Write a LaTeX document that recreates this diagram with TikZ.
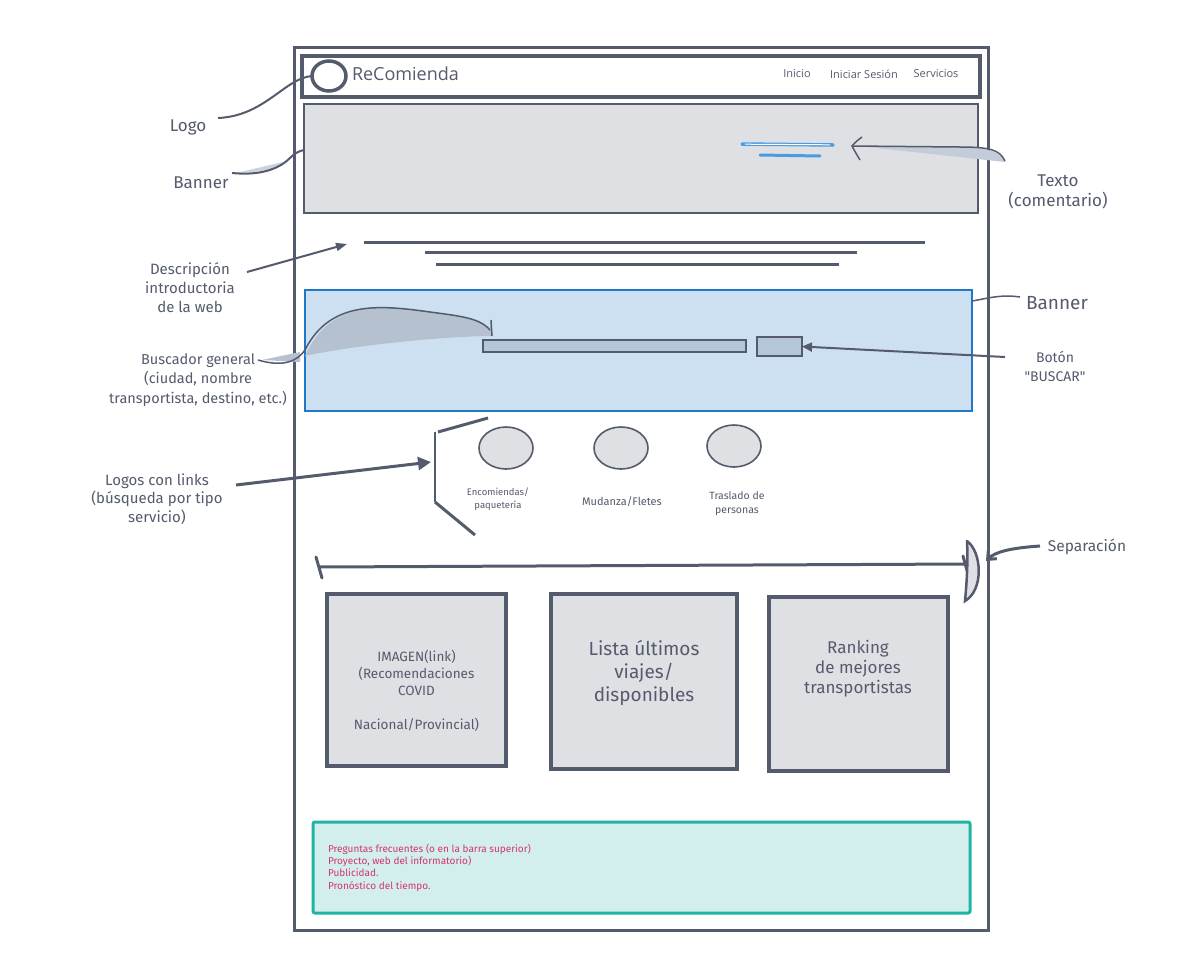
\documentclass[tikz,border=0pt]{standalone}
\usepackage{fontspec}
\setmainfont{Fira Sans}[Ligatures=TeXOff]
\newfontfamily\navfont{Open Sans}
\usetikzlibrary{shapes.geometric,arrows.meta}
\definecolor{ink}{HTML}{545B6C}
\definecolor{boxgray}{HTML}{DFE0E4}
\definecolor{bluefill}{HTML}{CCE0F1}
\definecolor{blueline}{HTML}{1E7AC8}
\definecolor{barfill}{HTML}{B4C6DA}
\definecolor{tealline}{HTML}{1FB5A2}
\definecolor{tealfill}{HTML}{D2EFEE}
\definecolor{pinktext}{HTML}{D6336C}
\definecolor{textblue}{HTML}{4A9BE0}
\definecolor{shade}{HTML}{A9B6C7}
\begin{document}
\begin{tikzpicture}[x=1pt,y=-1pt,
  every node/.style={inner sep=0pt,outer sep=0pt},
  frame/.style={draw=ink,line width=3pt},
  graybox/.style={draw=ink,fill=boxgray,line width=3.5pt},
  lbl/.style={text=ink,align=center},
  ann/.style={draw=ink,line width=2pt},
  txtline/.style={draw=ink,line width=3pt},
  circ/.style={ellipse,draw=ink,fill=boxgray,line width=1.6pt,minimum width=54pt,minimum height=42pt}
]
\useasboundingbox[fill=white] (0,0) rectangle (1184,978);

% page and header
\node[frame,minimum width=694pt,minimum height=883pt] (page) at (641,488.5) {};
\node[draw=ink,line width=3.5pt,fill=white,minimum width=678pt,minimum height=41pt] (header) at (641,76.5) {};
\node[ellipse,draw=ink,line width=3.5pt,minimum width=34pt,minimum height=30pt] (logo) at (329,76) {};
\node[anchor=west,text=ink,font=\navfont\fontsize{18}{20}\selectfont] (brand) at (352,74) {ReComienda};
\node[text=ink,font=\navfont\fontsize{11}{13}\selectfont] (inicio) at (797,74) {Inicio};
\node[text=ink,font=\navfont\fontsize{11}{13}\selectfont] (sesion) at (864,74) {Iniciar Sesión};
\node[text=ink,font=\navfont\fontsize{11}{13}\selectfont] (serv) at (936,74) {Servicios};

% top banner
\node[draw=ink,line width=1.3pt,fill=boxgray,minimum width=674pt,minimum height=109pt] (banner1) at (641,158.5) {};
\coordinate (bt1a) at (742,144); \coordinate (bt1b) at (833,145);
\coordinate (bt2a) at (760,155); \coordinate (bt2b) at (820,156);
\draw[textblue,line width=3.5pt,line cap=round] (bt1a) -- (bt1b);
\draw[white,line width=1pt] (745,144.2) -- (830,144.8);
\draw[textblue,line width=3pt,line cap=round] (bt2a) -- (bt2b);

% description lines
\coordinate (d1a) at (364,242); \coordinate (d1b) at (925,242);
\coordinate (d2a) at (425,252); \coordinate (d2b) at (857,252);
\coordinate (d3a) at (436,264); \coordinate (d3b) at (839,264);
\draw[txtline] (d1a) -- (d1b);
\draw[txtline] (d2a) -- (d2b);
\draw[txtline] (d3a) -- (d3b);

% blue banner with search
\node[draw=blueline,line width=1.2pt,fill=bluefill,minimum width=667pt,minimum height=121pt] (banner2) at (638.5,350.5) {};
\node[draw=ink,line width=1.4pt,fill=barfill,minimum width=263pt,minimum height=12pt] (search) at (614.5,346) {};
\node[draw=ink,line width=1.4pt,fill=barfill,minimum width=45pt,minimum height=19pt] (button) at (779.5,346.5) {};

% service logos
\node[circ] (c1) at (506,448) {};
\node[circ] (c2) at (621,448) {};
\node[circ] (c3) at (734,446) {};
\node[lbl,font=\fontsize{9.5}{13}\selectfont] (c1t) at (498,499.5) {Encomiendas/\\paquetería};
\node[lbl,font=\fontsize{11}{13}\selectfont] (c2t) at (622,502) {Mudanza/Fletes};
\node[lbl,font=\fontsize{10.5}{14}\selectfont] (c3t) at (737,504) {Traslado de\\personas};
\coordinate (br1) at (488,418); \coordinate (br2) at (438,432);
\coordinate (br3) at (435,432); \coordinate (br4) at (435,502);
\coordinate (br5) at (475,535);
\draw[ann,line width=3pt] (br1) -- (br2);
\draw[ann] (br3) -- (br4);
\draw[ann,line width=3pt] (br4) -- (br5);

% separator
\coordinate (sepa) at (318,567); \coordinate (sepb) at (967,564);
\draw[txtline] (sepa) -- (sepb);
\draw[txtline,line cap=round] (316,557) -- (322,578);
\draw[txtline,line cap=round] (963,556) -- (968,574);
\draw[ink,line width=2.5pt,fill=boxgray,line cap=round] (967,541) .. controls (982,552) and (984,590) .. (965,601)
   .. controls (967,580) and (968,560) .. (967,541);

% content boxes
\node[graybox,minimum width=179pt,minimum height=172pt] (box1) at (416.5,680) {};
\node[graybox,minimum width=186pt,minimum height=175pt] (box2) at (644,681.5) {};
\node[graybox,minimum width=179pt,minimum height=174pt] (box3) at (858.5,684) {};
\node[lbl,font=\fontsize{13.5}{17}\selectfont] (box1t) at (box1.center) [yshift=-11pt] {IMAGEN(link)\\(Recomendaciones\\COVID\\[17pt]Nacional/Provincial)};
\node[lbl,font=\fontsize{19}{23}\selectfont] (box2t) at (644,673) {Lista últimos\\viajes/\\disponibles};
\node[lbl,font=\fontsize{17}{20}\selectfont] (box3t) at (858,669) {Ranking\\de mejores\\transportistas};

% footer
\node[draw=tealline,line width=3pt,fill=tealfill,rounded corners=2pt,minimum width=657pt,minimum height=91pt] (footer) at (641.5,867.5) {};
\node[anchor=north west,align=left,text=pinktext,font=\fontsize{10}{12.2}\selectfont] (foottext) at (328,844) {Preguntas frecuentes (o en la barra superior)\\Proyecto, web del informatorio)\\Publicidad.\\Pronóstico del tiempo.};

% ---- annotations ----
\node[lbl,font=\fontsize{17}{20}\selectfont] (Llogo) at (188,127) {Logo};
\draw[ann] (218,118) .. controls (265,116) and (285,78) .. (logo.west);

\node[lbl,font=\fontsize{17}{20}\selectfont] (Lbanner) at (201,183) {Banner};
\fill[shade!60] (236,173) -- (283,162) .. controls (278,168) and (265,172) .. (236,173);
\draw[ann] (232,173) .. controls (262,176) and (280,168) .. (290,158) .. controls (295,153) and (299,151) .. (banner1.west |- 0,150);

\node[lbl,font=\fontsize{17}{20}\selectfont] (Ltexto) at (1058,192) {Texto\\(comentario)};
\coordinate (txtarrow) at (852,146);
\fill[shade!70] (858,146) -- (1005,162) .. controls (1000,152) and (990,148) .. (960,147) -- cycle;
\draw[ann,line width=1.5pt] (1005,161) .. controls (1000,150) and (990,147) .. (960,147) -- (txtarrow);
\draw[ann,line width=1.5pt] (862,137) .. controls (855,142) and (853,145) .. (txtarrow) .. controls (854,150) and (857,155) .. (860,160);

\node[lbl,font=\fontsize{15}{19}\selectfont] (Ldesc) at (190,288) {Descripción\\introductoria\\de la web};
\draw[ann,-{Triangle[length=11pt,width=8pt]}] (247,272) -- (347,244);

\node[lbl,font=\fontsize{14.5}{19.5}\selectfont] (Lbusc) at (198,380) {Buscador general\\(ciudad, nombre\\transportista, destino, etc.)};
\coordinate (buscend) at (490,330);
\fill[shade!85] (262,360) -- (300,352) -- (300,362) -- cycle;
\fill[shade!85] (305,356) .. controls (330,300) and (380,305) .. (430,312) .. controls (460,316) and (480,318) .. (buscend) -- (490,320) -- (492,336) -- (485,336) .. controls (420,338) and (340,348) .. (305,356);
\draw[ann,line width=1.5pt] (258,360) .. controls (285,368) and (298,360) .. (305,350) .. controls (330,300) and (380,305) .. (430,312) .. controls (460,316) and (480,318) .. (buscend);
\draw[ann,line width=1.5pt] (491,320) -- (492,336);

\node[lbl,font=\fontsize{19}{22}\selectfont] (Lbanner2) at (1057,303) {Banner};
\draw[ann,line width=1.5pt] (banner2.east |- 0,301) .. controls (985,299) and (1000,294) .. (1020,297);

\node[lbl,font=\fontsize{14}{19}\selectfont] (Lboton) at (1055,366) {Botón\\"BUSCAR"};
\draw[ann,-{Triangle[length=10pt,width=9pt]}] (1005,357) -- (button.east);

\node[lbl,font=\fontsize{15}{18.5}\selectfont] (Llogos) at (157,499) {Logos con links\\(búsqueda por tipo\\servicio)};
\draw[ann,line width=3pt,-{Triangle[length=13pt,width=13pt]}] (236,485) -- (431,462);

\node[lbl,font=\fontsize{15.5}{18}\selectfont] (Lsep) at (1087,547) {Separación};
\draw[ann,line width=3pt,-{Straight Barb[length=7pt,width=12pt]}] (1040,546) .. controls (1010,548) and (995,552) .. (986,561);

\end{tikzpicture}
\end{document}
